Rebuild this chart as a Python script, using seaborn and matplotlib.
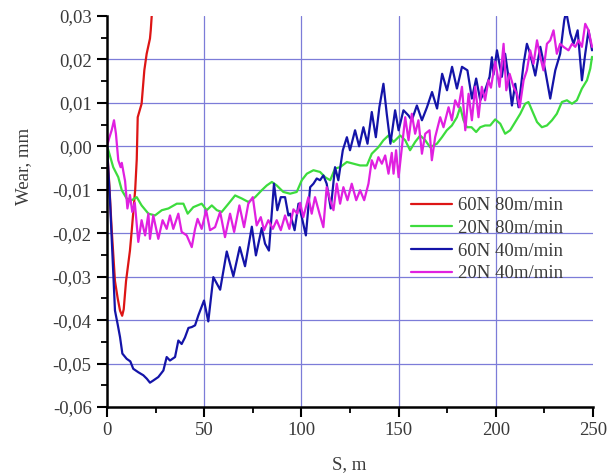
import numpy as np
import pandas as pd
import matplotlib
matplotlib.use("Agg")
import matplotlib.pyplot as plt
from matplotlib.ticker import MultipleLocator
import seaborn as sns

# Sliding distance S (m) and wear (mm) for each test condition
s_60n_80 = [0, 1.2, 2.4, 4.1, 5.5, 6.7, 7.8, 8.6, 9.8, 11.8, 12.8, 13.3, 14.5, 15.3, 15.8,
            17.8, 19.2, 20.4, 22.1, 22.5, 23.0]
w_60n_80 = [0, -0.009, -0.019, -0.031, -0.035, -0.0378, -0.039, -0.0375, -0.031, -0.024, -0.019,
            -0.0163, -0.010, -0.003, 0.0067, 0.0098, 0.0175, 0.0213, 0.0248, 0.0267, 0.030]

s_20n_80 = [0, 0.7, 3.2, 5.8, 7.6, 10.1, 12.7, 15.3, 17.8, 21.3, 24.7, 28.2, 31.6, 35.9, 39.3,
            41.5, 44.4, 48.7, 51.3, 53.9, 56.5, 59.0, 62.5, 65.9, 69.3, 72.7, 76.2, 79.6, 82.2,
            84.8, 87.3, 90.7, 94.2, 97.6, 100.2, 102.8, 106.2, 109.6, 112.2, 114.8, 117.3, 119.9,
            123.4, 126.8, 130.2, 133.7, 136.2, 139.6, 142.2, 144.8, 147.4, 150.8, 153.4, 155.9,
            158.5, 161.1, 163.7, 166.2, 169.7, 172.3, 174.8, 177.4, 180.0, 181.7, 183.4, 185.1,
            187.5, 189.9, 192.0, 194.5, 197.1, 199.7, 202.3, 204.8, 207.4, 210.0, 212.6, 215.1,
            216.8, 218.6, 221.2, 223.7, 226.3, 228.9, 231.4, 234.0, 236.6, 239.2, 241.7, 244.3,
            246.9, 248.6, 249.5]
w_20n_80 = [0, -0.0009, -0.0048, -0.0071, -0.0101, -0.0120, -0.0124, -0.0117, -0.0136, -0.0155,
            -0.0159, -0.0147, -0.0143, -0.0132, -0.0132, -0.0155, -0.0140, -0.0132, -0.0147,
            -0.0136, -0.0147, -0.0151, -0.0132, -0.0113, -0.0120, -0.0128, -0.0117, -0.0101,
            -0.0090, -0.0082, -0.0090, -0.0105, -0.0109, -0.0105, -0.0078, -0.0063, -0.0055,
            -0.0059, -0.0071, -0.0078, -0.0051, -0.0048, -0.0036, -0.0040, -0.0044, -0.0044,
            -0.0017, -0.0002, 0.0014, 0.0025, 0.0010, 0.0025, 0.0014, -0.0009, 0.0010, 0.0025,
            0.0014, -0.0002, 0.0006, 0.0021, 0.0037, 0.0048, 0.0067, 0.0090, 0.0060, 0.0044,
            0.0044, 0.0033, 0.0044, 0.0048, 0.0048, 0.0062, 0.0052, 0.0029, 0.0037, 0.0056,
            0.0075, 0.0098, 0.0102, 0.0083, 0.0056, 0.0044, 0.0048, 0.0060, 0.0075, 0.0102,
            0.0106, 0.0098, 0.0106, 0.0133, 0.0152, 0.0179, 0.0206]

s_60n_40 = [0, 1.5, 2.5, 4.1, 5.5, 6.7, 7.9, 10.1, 12.0, 13.5, 16.1, 18.7, 20.5, 22.1, 23.8,
            26.4, 29.0, 30.7, 32.4, 35.0, 36.7, 38.4, 40.1, 41.9, 43.6, 45.3, 47.0, 49.9, 52.1,
            54.7, 58.2, 61.6, 65.0, 68.3, 71.0, 74.5, 76.6, 79.6, 81.3, 83.3, 85.9, 87.6, 89.4,
            91.6, 93.3, 94.2, 96.5, 98.5, 100.2, 102.3, 104.5, 106.2, 107.9, 109.6, 111.3, 113.0,
            115.1, 117.3, 119.0, 121.3, 123.4, 125.0, 127.6, 129.7, 131.9, 134.0, 136.2, 138.3,
            140.1, 142.2, 143.9, 145.8, 148.2, 150.0, 152.5, 155.1, 156.8, 159.4, 162.0, 164.6,
            167.2, 169.8, 172.4, 174.9, 177.5, 180.0, 182.6, 185.4, 187.7, 189.9, 192.0, 194.5,
            196.8, 198.0, 198.8, 200.6, 203.1, 204.8, 206.5, 208.3, 210.0, 211.7, 214.3, 216.0,
            217.7, 220.3, 222.9, 225.4, 228.0, 230.6, 233.1, 235.2, 236.2, 238.3, 240.0, 242.1,
            244.3, 246.0, 247.7, 249.5]
w_60n_40 = [0, -0.012, -0.022, -0.0378, -0.0410, -0.0439, -0.0477, -0.0489, -0.0495, -0.0512,
            -0.0520, -0.0527, -0.0535, -0.0544, -0.0539, -0.0531, -0.0516, -0.0485, -0.0493,
            -0.0485, -0.0447, -0.0455, -0.0440, -0.0418, -0.0416, -0.0412, -0.0389, -0.0355,
            -0.0403, -0.0301, -0.0330, -0.0242, -0.0299, -0.0232, -0.0276, -0.0185, -0.0251,
            -0.0188, -0.0224, -0.0240, -0.0086, -0.0147, -0.0117, -0.0117, -0.0159, -0.0155,
            -0.0193, -0.0132, -0.0163, -0.0205, -0.0094, -0.0086, -0.0074, -0.0078, -0.0067,
            -0.0086, -0.0143, -0.0048, -0.0078, -0.0009, 0.0021, -0.0009, 0.0037, 0.0000, 0.0044,
            0.0006, 0.0079, 0.0021, 0.0090, 0.0144, 0.0075, 0.0006, 0.0083, 0.0037, 0.0083,
            0.0071, 0.0060, 0.0094, 0.0060, 0.0090, 0.0125, 0.0087, 0.0167, 0.0129, 0.0183,
            0.0133, 0.0183, 0.0175, 0.0110, 0.0156, 0.0106, 0.0129, 0.0160, 0.0205, 0.0165,
            0.0221, 0.0160, 0.0213, 0.0160, 0.0094, 0.0144, 0.0090, 0.0190, 0.0236, 0.0213,
            0.0163, 0.0229, 0.0175, 0.0110, 0.0175, 0.0213, 0.0290, 0.0310, 0.0260, 0.0236,
            0.0267, 0.0152, 0.0213, 0.0267, 0.0221]

s_20n_40 = [0, 1.2, 2.4, 3.6, 4.6, 5.8, 7.0, 7.6, 9.3, 10.5, 11.8, 13.0, 14.3, 16.1, 17.8, 19.6,
            21.3, 22.1, 23.8, 26.4, 28.6, 30.7, 32.4, 34.1, 36.7, 38.4, 41.0, 43.6, 45.3, 46.6,
            48.7, 51.0, 53.0, 55.6, 58.2, 60.7, 63.3, 65.4, 68.1, 70.5, 72.7, 75.0, 77.0, 79.1,
            80.8, 83.0, 85.3, 87.3, 89.4, 91.6, 93.8, 95.9, 97.9, 99.3, 101.0, 103.6, 105.3, 107.0,
            109.3, 111.3, 113.0, 114.8, 116.5, 118.2, 119.9, 121.6, 123.7, 125.9, 128.2, 130.2,
            132.3, 134.5, 136.2, 137.9, 139.6, 141.4, 143.1, 144.8, 146.5, 147.4, 148.7, 150.0,
            151.7, 153.4, 155.1, 156.8, 158.5, 160.2, 162.0, 163.7, 165.9, 167.1, 168.8, 171.4,
            173.1, 175.7, 177.4, 179.1, 180.8, 182.6, 184.3, 186.0, 187.7, 189.4, 191.1, 192.8,
            194.5, 196.2, 197.5, 199.7, 201.9, 204.0, 205.4, 207.1, 209.1, 210.9, 212.3, 214.3,
            216.0, 217.7, 219.4, 221.2, 222.9, 224.5, 226.3, 228.0, 229.7, 231.4, 233.1, 234.8,
            237.4, 239.2, 240.9, 242.6, 244.3, 246.0, 247.7, 249.5]
w_20n_40 = [0, 0.0020, 0.0037, 0.0060, 0.0029, -0.0032, -0.0048, -0.0038, -0.0080, -0.0143,
            -0.0112, -0.0151, -0.0130, -0.0220, -0.0170, -0.0205, -0.0155, -0.0213, -0.0159,
            -0.0213, -0.0170, -0.0190, -0.0159, -0.0190, -0.0155, -0.0197, -0.0205, -0.0232,
            -0.0190, -0.0167, -0.0190, -0.0147, -0.0193, -0.0186, -0.0151, -0.0209, -0.0155,
            -0.0197, -0.0136, -0.0186, -0.0132, -0.0117, -0.0182, -0.0163, -0.0193, -0.0170,
            -0.0190, -0.0170, -0.0193, -0.0159, -0.0190, -0.0145, -0.0155, -0.0130, -0.0163,
            -0.0117, -0.0155, -0.0117, -0.0155, -0.0186, -0.0094, -0.0124, -0.0147, -0.0086,
            -0.0132, -0.0094, -0.0124, -0.0086, -0.0124, -0.0101, -0.0124, -0.0086, -0.0032,
            -0.0051, -0.0025, -0.0040, -0.0021, -0.0063, -0.0015, -0.0063, -0.0009, -0.0071,
            -0.0002, 0.0067, 0.0014, 0.0075, 0.0029, 0.0060, -0.0017, 0.0029, 0.0037, -0.0032,
            0.0021, 0.0067, 0.0044, 0.0090, 0.0060, 0.0106, 0.0090, 0.0137, 0.0037, 0.0121,
            0.0060, 0.0137, 0.0067, 0.0137, 0.0106, 0.0152, 0.0135, 0.0195, 0.0137, 0.0236,
            0.0129, 0.0167, 0.0137, 0.0121, 0.0090, 0.0152, 0.0175, 0.0221, 0.0190, 0.0244,
            0.0206, 0.0175, 0.0236, 0.0244, 0.0267, 0.0213, 0.0236, 0.0229, 0.0221, 0.0236,
            0.0229, 0.0244, 0.0229, 0.0282, 0.0267, 0.0229]

series_labels = ["60N 80m/min", "20N 80m/min", "60N 40m/min", "20N 40m/min"]
series_colors = ["#dd1515", "#3ddc3d", "#1414a8", "#e020e0"]

x_ticks = [0, 50, 100, 150, 200, 250]
y_ticks = [0.03, 0.02, 0.01, 0.00, -0.01, -0.02, -0.03, -0.04, -0.05, -0.06]
y_tick_labels = ["0,03", "0,02", "0,01", "0,00", "-0,01", "-0,02", "-0,03", "-0,04", "-0,05", "-0,06"]

frames = []
for lab, s, w in zip(series_labels,
                     [s_60n_80, s_20n_80, s_60n_40, s_20n_40],
                     [w_60n_80, w_20n_80, w_60n_40, w_20n_40]):
    frames.append(pd.DataFrame({"S": s, "W": w, "cond": lab}))
df = pd.concat(frames, ignore_index=True)

sns.set_theme(style="white")
plt.rcParams["font.family"] = ["Liberation Serif", "DejaVu Serif"]

fig = plt.figure(figsize=(6.09, 4.75), dpi=100)
ax = fig.add_axes([107 / 609, 1 - 407 / 475, 486 / 609, 391 / 475])

# interior grid lines only (none along the top and right edges)
for x in x_ticks[1:-1]:
    ax.axvline(x, color="#7c7cd8", linewidth=0.9, zorder=0.5)
for y in y_ticks[1:-1]:
    ax.axhline(y, color="#7c7cd8", linewidth=0.9, zorder=0.5)

sns.lineplot(data=df, x="S", y="W", hue="cond", hue_order=series_labels,
             palette=series_colors, sort=False, estimator=None, linewidth=1.6, ax=ax)

ax.set_xlim(0, 250)
ax.set_ylim(-0.06, 0.03)
ax.set_xticks(x_ticks)
ax.set_xticklabels([str(t) for t in x_ticks])
ax.set_yticks(y_ticks)
ax.set_yticklabels(y_tick_labels)
ax.xaxis.set_minor_locator(MultipleLocator(25))
ax.yaxis.set_minor_locator(MultipleLocator(0.005))
ax.grid(False)

for sp in ["top", "right"]:
    ax.spines[sp].set_visible(False)
for sp in ["left", "bottom"]:
    ax.spines[sp].set_color("black")
    ax.spines[sp].set_linewidth(1.8)

ax.tick_params(which="major", direction="out", length=7, width=1.5, color="black",
               labelsize=13.5, labelcolor="#3a3a3a", pad=4, left=True, bottom=True)
ax.tick_params(which="minor", direction="out", length=4, width=1.3, color="black",
               left=True, bottom=True)

ax.set_xlabel("S, m", fontsize=13.5, color="#3a3a3a", va="center")
ax.set_ylabel("Wear, mm", fontsize=13.5, color="#3a3a3a", va="center")
ax.xaxis.set_label_coords(0.498, (407 - 465) / 391)
ax.yaxis.set_label_coords((24 - 107) / 486, (407 - 166) / 391)

leg = ax.legend(loc="upper left", bbox_to_anchor=(0.625, 0.537), frameon=False,
                fontsize=13.5, handlelength=2.2, handletextpad=0.3, labelspacing=0.3,
                borderpad=0, borderaxespad=0)
for t in leg.get_texts():
    t.set_color("#3a3a3a")
for h in leg.get_lines():
    h.set_linewidth(1.6)

fig.savefig("out.png", dpi=100)
